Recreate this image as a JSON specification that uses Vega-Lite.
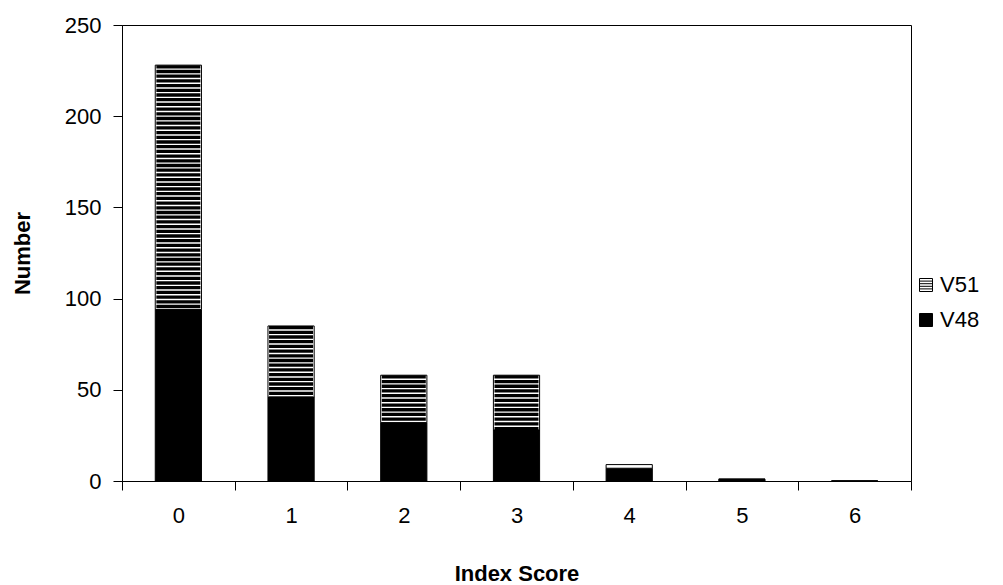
{
  "$schema": "https://vega.github.io/schema/vega-lite/v6.json",
  "width": 789,
  "height": 456,
  "autosize": "none",
  "padding": {"left": 122, "top": 25, "right": 92, "bottom": 104},
  "background": "white",
  "config": {
    "font": "Liberation Sans",
    "view": {"stroke": "black", "strokeWidth": 1},
    "axis": {"labelColor": "black", "titleColor": "black", "domainColor": "black", "tickColor": "black", "labelFontSize": 22, "titleFontSize": 22, "titleFontWeight": "bold", "grid": false},
    "legend": {"labelColor": "black", "labelFontSize": 22}
  },
  "data": {
    "values": [
      {"score": "0", "series": "V48", "n": 94},
      {"score": "0", "series": "V51", "n": 134},
      {"score": "1", "series": "V48", "n": 46},
      {"score": "1", "series": "V51", "n": 39},
      {"score": "2", "series": "V48", "n": 32},
      {"score": "2", "series": "V51", "n": 26},
      {"score": "3", "series": "V48", "n": 28},
      {"score": "3", "series": "V51", "n": 30},
      {"score": "4", "series": "V48", "n": 7},
      {"score": "4", "series": "V51", "n": 2},
      {"score": "5", "series": "V48", "n": 1},
      {"score": "5", "series": "V51", "n": 0},
      {"score": "6", "series": "V48", "n": 0},
      {"score": "6", "series": "V51", "n": 0}
    ]
  },
  "transform": [
    {"stack": "n", "groupby": ["score"], "sort": [{"field": "series", "order": "ascending"}], "as": ["y0", "y1"]}
  ],
  "encoding": {
    "x": {
      "field": "score", "type": "ordinal",
      "scale": {"paddingInner": 0, "paddingOuter": 0},
      "axis": {"title": "Index Score", "labelAngle": 0, "tickSize": 9, "labelPadding": 15, "tickBand": "extent", "titleY": 82, "titleBaseline": "top"}
    },
    "y": {
      "field": "y1", "type": "quantitative",
      "scale": {"domain": [0, 250], "nice": false},
      "axis": {"title": "Number", "values": [0, 50, 100, 150, 200, 250], "tickSize": 9, "labelPadding": 12, "titleX": -100, "titleY": 228, "titleAngle": -90, "titleBaseline": "middle", "titleAlign": "center"}
    },
    "y2": {"field": "y0"}
  },
  "layer": [
    {
      "mark": {"type": "bar", "stroke": "black", "strokeWidth": 1, "width": {"band": 0.41}},
      "encoding": {
        "color": {
          "field": "series", "type": "nominal",
          "scale": {"domain": ["V51", "V48"], "range": ["white", "black"]},
          "legend": {
            "title": null, "orient": "none", "legendX": 793, "legendY": 249,
            "symbolType": "square", "symbolSize": 169, "symbolStrokeColor": "black", "symbolStrokeWidth": 1,
            "rowPadding": 13, "labelOffset": 3,
            "encode": {
              "symbols": {"update": {
                "shape": {"signal": "datum.value === 'V51' ? 'M-1,-1H1V1H-1Z M-1,-0.6H1 M-1,-0.2H1 M-1,0.2H1 M-1,0.6H1' : 'square'"},
                "stroke": {"value": "black"}
              }}
            }
          }
        }
      }
    },
    {
      "transform": [{"filter": "datum.series === 'V51' && datum.n > 5"}],
      "mark": {"type": "rule", "color": "black", "strokeWidth": 44, "strokeDash": [3.3, 1.4], "strokeCap": "butt"}
    }
  ]
}
